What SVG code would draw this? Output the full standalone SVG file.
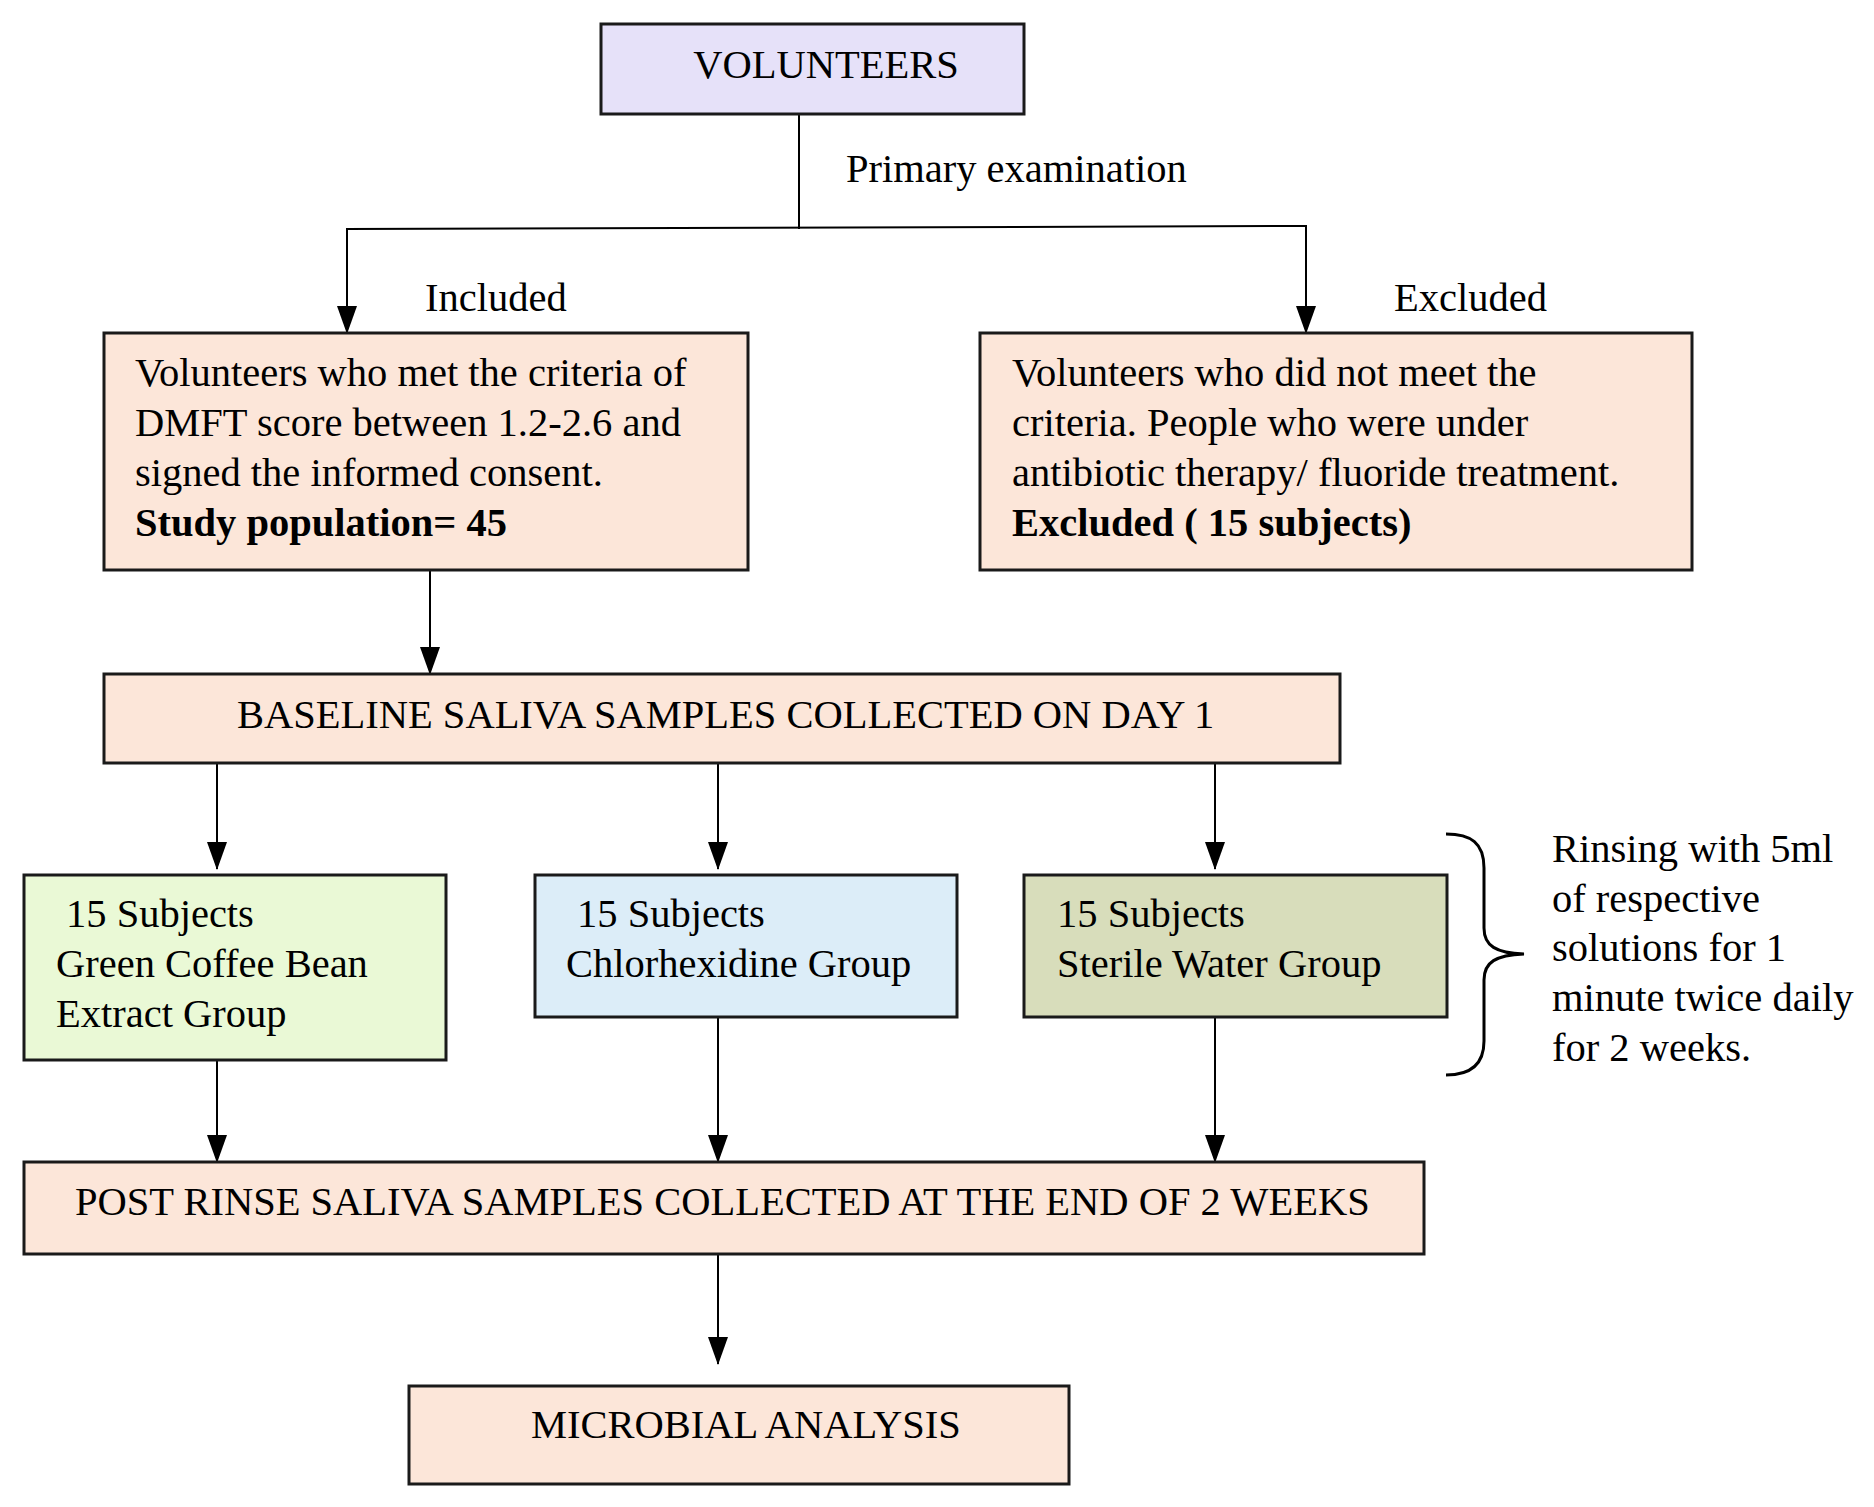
<svg xmlns="http://www.w3.org/2000/svg" width="1874" height="1507" viewBox="0 0 1874 1507">
<style>
text{font-family:"Liberation Serif","Times New Roman",serif;font-size:40.5px;fill:#000}
.b{font-weight:bold}
.box{stroke:#1a1a1a;stroke-width:3}
.peach{fill:#FCE6D9}
.conn{stroke:#000;stroke-width:2;fill:none}
</style>
<defs>
<marker id="ahd" markerUnits="userSpaceOnUse" markerWidth="29" markerHeight="22" refX="27" refY="11" orient="auto" viewBox="0 0 29 22">
<path d="M0,1 L28,11 L0,21 Z" fill="#000"/>
</marker>
</defs>
<g id="connectors">
<line class="conn" x1="799" y1="114" x2="799" y2="229"/>
<line class="conn" x1="346" y1="229" x2="1307" y2="226" stroke-width="3"/>
<line class="conn" x1="347" y1="229" x2="347" y2="333" marker-end="url(#ahd)"/>
<line class="conn" x1="1306" y1="226" x2="1306" y2="333" marker-end="url(#ahd)"/>
<line class="conn" x1="430" y1="570" x2="430" y2="674" marker-end="url(#ahd)"/>
<line class="conn" x1="217" y1="763" x2="217" y2="869" marker-end="url(#ahd)"/>
<line class="conn" x1="718" y1="763" x2="718" y2="869" marker-end="url(#ahd)"/>
<line class="conn" x1="1215" y1="763" x2="1215" y2="869" marker-end="url(#ahd)"/>
<line class="conn" x1="217" y1="1060" x2="217" y2="1162" marker-end="url(#ahd)"/>
<line class="conn" x1="718" y1="1017" x2="718" y2="1162" marker-end="url(#ahd)"/>
<line class="conn" x1="1215" y1="1017" x2="1215" y2="1162" marker-end="url(#ahd)"/>
<line class="conn" x1="718" y1="1254" x2="718" y2="1364" marker-end="url(#ahd)"/>
</g>
<g id="label-primary"><text x="846" y="182">Primary examination</text></g>
<g id="label-included"><text x="425" y="311">Included</text></g>
<g id="label-excluded"><text x="1394" y="311">Excluded</text></g>
<g id="volunteers">
<rect class="box" x="601" y="24" width="423" height="90" fill="#E6E1F9"/>
<text x="826" y="78" text-anchor="middle">VOLUNTEERS</text>
</g>
<g id="included">
<rect class="box peach" x="104" y="333" width="644" height="237"/>
<text x="135" y="386">Volunteers who met the criteria of</text>
<text x="135" y="436">DMFT score between 1.2-2.6 and</text>
<text x="135" y="486">signed the informed consent.</text>
<text class="b" x="135" y="536">Study population= 45</text>
</g>
<g id="excluded">
<rect class="box peach" x="980" y="333" width="712" height="237"/>
<text x="1012" y="386">Volunteers who did not meet the</text>
<text x="1012" y="436">criteria. People who were under</text>
<text x="1012" y="486">antibiotic therapy/ fluoride treatment.</text>
<text class="b" x="1012" y="536">Excluded ( 15 subjects)</text>
</g>
<g id="baseline">
<rect class="box peach" x="104" y="674" width="1236" height="89"/>
<text x="237" y="728">BASELINE SALIVA SAMPLES COLLECTED ON DAY 1</text>
</g>
<g id="green">
<rect class="box" x="24" y="875" width="422" height="185" fill="#EAF9D6"/>
<text x="66" y="927">15 Subjects</text>
<text x="56" y="977">Green Coffee Bean</text>
<text x="56" y="1027">Extract Group</text>
</g>
<g id="chlorhexidine">
<rect class="box" x="535" y="875" width="422" height="142" fill="#DCEDF8"/>
<text x="577" y="927">15 Subjects</text>
<text x="566" y="977">Chlorhexidine Group</text>
</g>
<g id="sterile">
<rect class="box" x="1024" y="875" width="423" height="142" fill="#D8DDBB"/>
<text x="1057" y="927">15 Subjects</text>
<text x="1057" y="977">Sterile Water Group</text>
</g>
<g id="rinsing-note">
<path d="M1446,834 C1471,834 1484,843 1484,868 L1484,928 C1484,946 1496,953 1524,954 C1496,955 1484,962 1484,980 L1484,1041 C1484,1064 1471,1075 1446,1075" fill="none" stroke="#000" stroke-width="3"/>
<text x="1552" y="862">Rinsing with 5ml</text>
<text x="1552" y="912">of respective</text>
<text x="1552" y="961">solutions for 1</text>
<text x="1552" y="1011">minute twice daily</text>
<text x="1552" y="1061">for 2 weeks.</text>
</g>
<g id="postrinse">
<rect class="box peach" x="24" y="1162" width="1400" height="92"/>
<text x="75" y="1215">POST RINSE SALIVA SAMPLES COLLECTED AT THE END OF 2 WEEKS</text>
</g>
<g id="microbial">
<rect class="box peach" x="409" y="1386" width="660" height="98"/>
<text x="531" y="1438">MICROBIAL ANALYSIS</text>
</g>
</svg>
